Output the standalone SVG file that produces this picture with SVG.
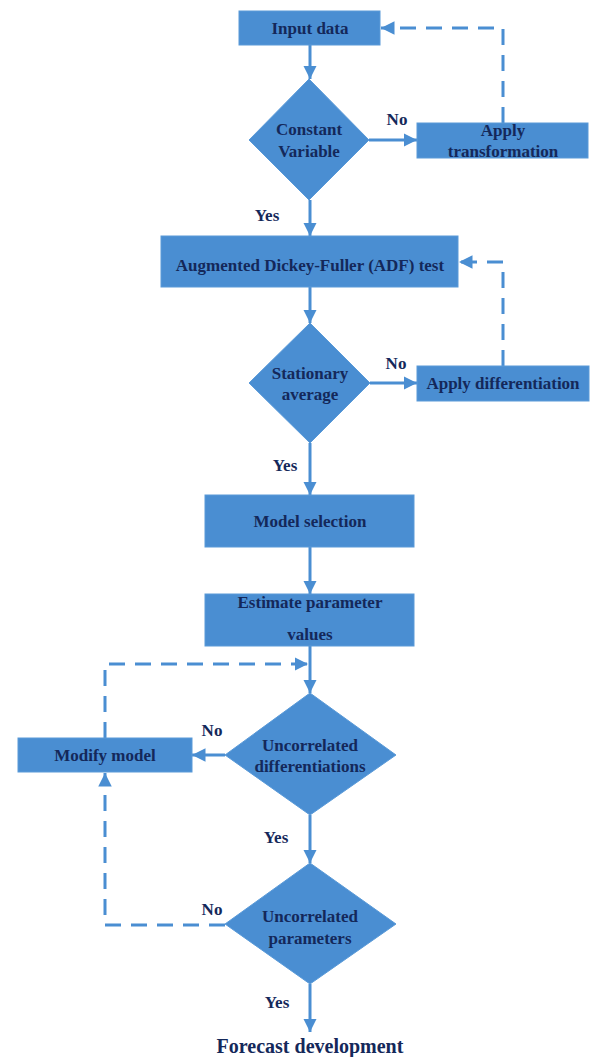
<svg xmlns="http://www.w3.org/2000/svg" width="590" height="1057" viewBox="0 0 590 1057">
<style>
.box{fill:#4a8ed2;stroke:#5a9ad8;stroke-width:1}
.t{font-family:"Liberation Serif","Times New Roman",serif;font-weight:bold;font-size:17px;fill:#14285a;text-anchor:middle}
.l{font-family:"Liberation Serif","Times New Roman",serif;font-weight:bold;font-size:17px;fill:#14285a;text-anchor:middle}
.c{fill:none;stroke:#4a8ed2;stroke-width:3}
.d{fill:none;stroke:#4a8ed2;stroke-width:3;stroke-dasharray:16 10}
</style>
<defs>
<marker id="ah" viewBox="0 0 10 10" refX="10" refY="5" markerWidth="4.5" markerHeight="4.5" orient="auto" markerUnits="strokeWidth">
<path d="M0,0 L10,5 L0,10 z" fill="#4a8ed2"/>
</marker>
</defs>
<rect width="590" height="1057" fill="#ffffff"/>
<g id="connectors">
<path class="c" d="M310,45 V79" marker-end="url(#ah)"/>
<path class="c" d="M369,140 H417" marker-end="url(#ah)"/>
<path class="d" d="M503,123 V28 H381" marker-end="url(#ah)"/>
<path class="c" d="M310,200 V236" marker-end="url(#ah)"/>
<path class="c" d="M310,287 V323" marker-end="url(#ah)"/>
<path class="c" d="M370,383 H417" marker-end="url(#ah)"/>
<path class="d" d="M503,366 V262 H459" marker-end="url(#ah)"/>
<path class="c" d="M310,443 V495" marker-end="url(#ah)"/>
<path class="c" d="M310,547 V594" marker-end="url(#ah)"/>
<path class="c" d="M310,646 V693" marker-end="url(#ah)"/>
<path class="d" d="M105,738 V664 H308" marker-end="url(#ah)"/>
<path class="c" d="M225,755 H192" marker-end="url(#ah)"/>
<path class="c" d="M310,815 V863" marker-end="url(#ah)"/>
<path class="d" d="M225,925 H105 V773" marker-end="url(#ah)"/>
<path class="c" d="M310,984 V1032" marker-end="url(#ah)"/>
<text class="l" x="397" y="125">No</text>
<text class="l" x="267" y="221">Yes</text>
<text class="l" x="396" y="369">No</text>
<text class="l" x="285" y="471">Yes</text>
<text class="l" x="212" y="736">No</text>
<text class="l" x="276" y="843">Yes</text>
<text class="l" x="212" y="915">No</text>
<text class="l" x="277" y="1008">Yes</text>
</g>
<g id="input">
<rect class="box" x="239" y="11" width="141" height="34"/>
<text class="t" x="310" y="34">Input data</text>
</g>
<g id="constant">
<polygon class="box" points="309,79 369,140 309,200 249,140"/>
<text class="t" x="309" y="135">Constant</text>
<text class="t" x="309" y="157">Variable</text>
</g>
<g id="transform">
<rect class="box" x="417" y="123" width="171" height="35"/>
<text class="t" x="503" y="136">Apply</text>
<text class="t" x="503" y="157">transformation</text>
</g>
<g id="adf">
<rect class="box" x="161" y="236" width="297" height="51"/>
<text class="t" x="310" y="271">Augmented Dickey-Fuller (ADF) test</text>
</g>
<g id="stationary">
<polygon class="box" points="310,323 370,383 310,443 249,383"/>
<text class="t" x="310" y="379">Stationary</text>
<text class="t" x="310" y="400">average</text>
</g>
<g id="differentiation">
<rect class="box" x="417" y="366" width="172" height="35"/>
<text class="t" x="503" y="389">Apply differentiation</text>
</g>
<g id="model">
<rect class="box" x="205" y="495" width="209" height="52"/>
<text class="t" x="310" y="527">Model selection</text>
</g>
<g id="estimate">
<rect class="box" x="205" y="594" width="209" height="52"/>
<text class="t" x="310" y="608">Estimate parameter</text>
<text class="t" x="310" y="640">values</text>
</g>
<g id="uncorr-diff">
<polygon class="box" points="310,693 396,755 310,815 225,755"/>
<text class="t" x="310" y="751">Uncorrelated</text>
<text class="t" x="310" y="772">differentiations</text>
</g>
<g id="modify">
<rect class="box" x="18" y="738" width="174" height="34"/>
<text class="t" x="105" y="761">Modify model</text>
</g>
<g id="uncorr-param">
<polygon class="box" points="310,863 396,924 310,984 225,924"/>
<text class="t" x="310" y="922">Uncorrelated</text>
<text class="t" x="310" y="944">parameters</text>
</g>
<g id="forecast">
<text class="t" x="310" y="1053" style="font-size:20px">Forecast development</text>
</g>
</svg>
